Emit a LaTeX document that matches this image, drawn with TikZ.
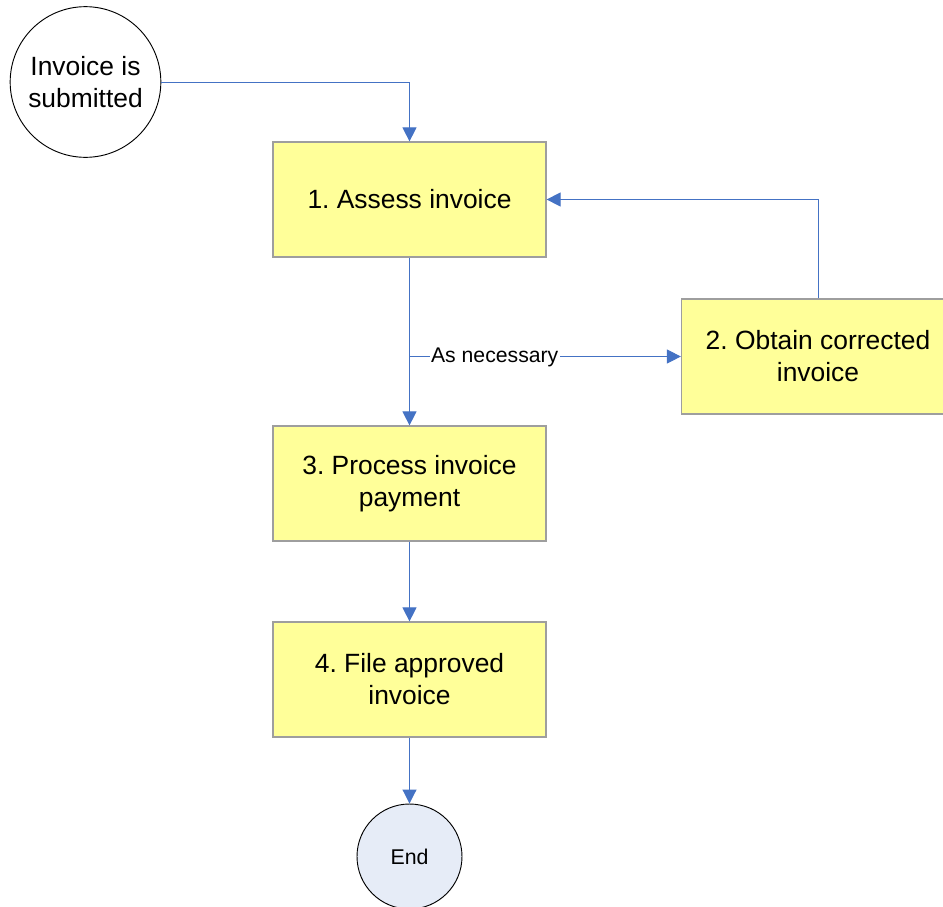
\documentclass[tikz,border=0pt]{standalone}
\usepackage{fontspec}
\setmainfont{Liberation Sans}
\usetikzlibrary{arrows.meta}
\definecolor{flowblue}{HTML}{4472C4}
\definecolor{stepfill}{HTML}{FFFF99}
\definecolor{stepline}{HTML}{9E9E9E}
\definecolor{endfill}{HTML}{E6ECF7}
\frenchspacing
\begin{document}
\begin{tikzpicture}[x=0.75pt,y=-0.75pt,
  stepbox/.style={draw=stepline, line width=0.9pt, fill=stepfill,
    minimum width=204.75pt, minimum height=86.25pt, align=center,
    font=\fontsize{19.8pt}{24pt}\selectfont, inner sep=0pt},
  terminal/.style={draw=black, line width=0.7pt, circle, inner sep=0pt, align=center},
  flow/.style={draw=flowblue, line width=0.75pt, -{Triangle[length=10.5pt,width=10.5pt]}}]
\useasboundingbox (0,0) rectangle (943,907);
\clip (0,0) rectangle (943,907);

% start and end events
\node[terminal, minimum size=113pt, font=\fontsize{19.8pt}{24pt}\selectfont] (start) at (85.5,82) {Invoice is\\submitted};
\node[terminal, fill=endfill, minimum size=78.75pt, font=\fontsize{16pt}{19pt}\selectfont] (end) at (409.5,856.5) {End};

% process steps
\node[stepbox] (assess) at (409.5,199.5) {1. Assess invoice};
\node[stepbox] (obtain) at (818,356.5) {2. Obtain corrected\\invoice};
\node[stepbox] (process) at (409.5,483.5) {3. Process invoice\\payment};
\node[stepbox] (file) at (409.5,679.5) {4. File approved\\invoice};

% branch point on the assess -> process line
\coordinate (split) at (assess.south |- obtain.west);
\coordinate (turn) at (obtain.north |- assess.east);

% connectors
\draw[flow] (start.east) -| (assess.north);
\draw[flow] (assess.south) -- (process.north);
\draw[flow] (split) -- node[pos=0.314, fill=white, inner sep=1pt, yshift=-1pt, font=\fontsize{15.9pt}{19pt}\selectfont] {As necessary} (obtain.west);
\draw[flow] (obtain.north) -- (turn) -- (assess.east);
\draw[flow] (process.south) -- (file.north);
\draw[flow] (file.south) -- (end.north);
\end{tikzpicture}
\end{document}
